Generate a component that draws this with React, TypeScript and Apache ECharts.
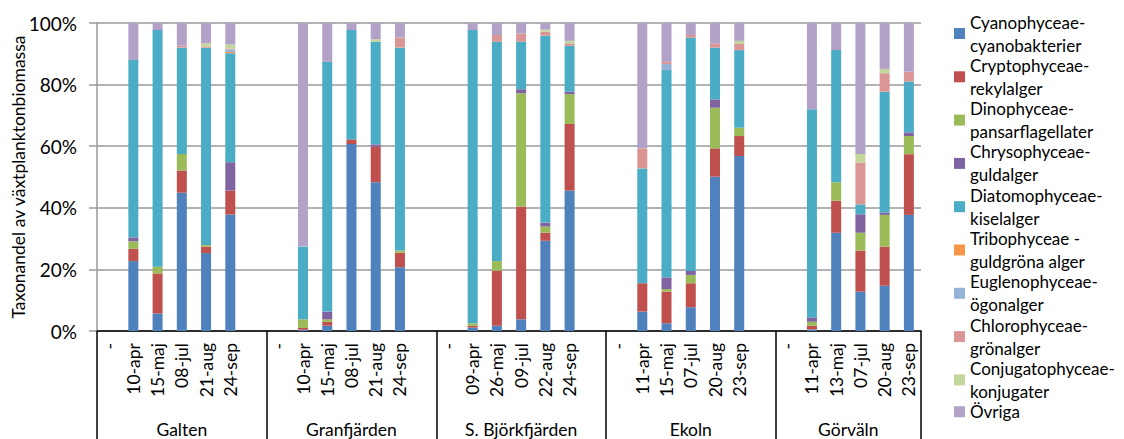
import React, { useEffect, useRef } from "react";
import * as echarts from "echarts";

// Stations (outer category level) and their sampling dates (inner level)
const stations = ["Galten", "Granfjärden", "S. Björkfjärden", "Ekoln", "Görväln"];
const galtenDates = ["10-apr", "15-maj", "08-jul", "21-aug", "24-sep"];
const granfjardenDates = ["10-apr", "15-maj", "08-jul", "21-aug", "24-sep"];
const bjorkfjardenDates = ["09-apr", "26-maj", "09-jul", "22-aug", "24-sep"];
const ekolnDates = ["11-apr", "15-maj", "07-jul", "20-aug", "23-sep"];
const gorvalnDates = ["11-apr", "13-maj", "07-jul", "20-aug", "23-sep"];
const stationDates = [galtenDates, granfjardenDates, bjorkfjardenDates, ekolnDates, gorvalnDates];

// Share of phytoplankton biomass (%) per taxon, 25 samples in station/date order
const cyano = [22.7, 5.7, 44.9, 25.3, 37.8, 0.4, 1.7, 60.7, 48.3, 20.7, 1.1, 1.7, 3.8, 29.3, 45.6, 6.3, 2.5, 7.7, 50.1, 56.8, 0.5, 31.9, 12.8, 14.7, 37.7];
const crypto = [4.0, 13.0, 7.2, 2.1, 7.8, 0.6, 1.3, 1.5, 11.5, 4.7, 0.6, 17.9, 36.6, 2.6, 21.6, 9.2, 10.3, 7.8, 9.2, 6.5, 1.2, 10.4, 13.3, 12.7, 19.7];
const dino = [2.4, 2.2, 5.4, 0.5, 0, 2.8, 0.8, 0, 0, 0.7, 0.8, 3.1, 36.8, 2.0, 9.7, 0, 0.8, 2.7, 13.2, 2.7, 1.3, 6.0, 5.8, 10.3, 5.9];
const chryso = [1.3, 0, 0, 0, 9.2, 0, 2.5, 0, 0.8, 0, 0, 0, 1.3, 1.3, 0.8, 0, 3.8, 1.3, 2.7, 0, 1.4, 0, 6.0, 0.8, 1.2];
const diatom = [57.6, 76.8, 34.5, 64.1, 35.4, 23.6, 81.1, 35.5, 33.3, 65.9, 95.2, 71.2, 15.4, 60.7, 14.9, 37.3, 67.3, 75.7, 16.8, 25.2, 67.6, 42.9, 3.2, 39.2, 16.5];
const tribo = [0, 0, 0, 0, 0.4, 0, 0, 0, 0, 0, 0, 0, 0, 0, 0, 0, 0, 0, 0, 0, 0, 0, 0, 0, 0];
const eugleno = [0, 0, 0, 0, 0.8, 0, 0, 0, 0, 0, 0, 0, 0, 0, 0, 0, 2.0, 0, 0, 0, 0, 0, 0, 0, 0];
const chloro = [0, 0, 0.6, 0.4, 0.3, 0, 0, 0, 0, 3.3, 0, 2.2, 2.7, 1.3, 0.8, 6.5, 0.7, 0.9, 1.4, 2.0, 0, 0, 13.6, 6.0, 3.2];
const conj = [0, 0, 0, 1.0, 1.3, 0, 0, 0, 0.8, 0, 0, 0, 0, 0.7, 0.8, 0, 0, 0, 0, 1.0, 0, 0, 2.8, 1.4, 0];
const ovriga = [12.0, 2.3, 7.4, 6.6, 7.0, 72.6, 12.6, 2.3, 5.3, 4.7, 2.3, 3.9, 3.4, 2.1, 5.8, 40.7, 12.6, 3.9, 6.6, 5.8, 28.0, 8.8, 42.5, 14.9, 15.8];

const taxa = [
  { name: "Cyanophyceae-cyanobakterier", values: cyano, color: "#4F81BD" },
  { name: "Cryptophyceae-rekylalger", values: crypto, color: "#C0504D" },
  { name: "Dinophyceae-pansarflagellater", values: dino, color: "#9BBB59" },
  { name: "Chrysophyceae-guldalger", values: chryso, color: "#8064A2" },
  { name: "Diatomophyceae-kiselalger", values: diatom, color: "#4BACC6" },
  { name: "Tribophyceae - guldgröna alger", values: tribo, color: "#F79646" },
  { name: "Euglenophyceae-ögonalger", values: eugleno, color: "#95B3D7" },
  { name: "Chlorophyceae-grönalger", values: chloro, color: "#D99694" },
  { name: "Conjugatophyceae-konjugater", values: conj, color: "#C3D69B" },
  { name: "Övriga", values: ovriga, color: "#B3A2C7" },
];

const FONT = "Lato, 'Liberation Sans', sans-serif";

// Category slots: per station a "-" slot, the five dates, and a spacer slot
// between stations. sampleIndex maps each slot to a sample (or -1 if empty).
const categories: string[] = [];
const sampleIndex: number[] = [];
const stationBounds: number[] = [0];
stationDates.forEach((dates, s) => {
  categories.push("-");
  sampleIndex.push(-1);
  dates.forEach((d, i) => {
    categories.push(d);
    sampleIndex.push(s * 5 + i);
  });
  if (s < stationDates.length - 1) {
    categories.push("");
    sampleIndex.push(-1);
  }
  stationBounds.push(categories.length);
});
const stationCenters = stations.map((_, i) => (stationBounds[i] + stationBounds[i + 1]) / 2);

function legendText(name: string): string {
  const i = name.indexOf("-");
  if (i < 0) return name;
  return name.slice(0, i + 1) + "\n" + name.slice(i + 1).trim();
}

export default function App() {
  const ref = useRef<HTMLDivElement>(null);

  useEffect(() => {
    if (!ref.current) return;
    const chart = echarts.init(ref.current, undefined, { renderer: "svg" });
    const lineH = 23;
    chart.setOption({
      animation: false,
      textStyle: { fontFamily: FONT },
      grid: {
        left: 97,
        right: 203,
        top: 23,
        bottom: 108,
        containLabel: false,
        outerBoundsMode: "none",
      },
      legend: {
        orient: "vertical",
        left: 949,
        top: -6,
        itemWidth: 11,
        itemHeight: 11,
        itemGap: -25.7,
        icon: "rect",
        selectedMode: false,
        data: taxa.map((t) => t.name),
        formatter: (name: string) => legendText(name),
        textStyle: {
          fontFamily: FONT,
          fontSize: 17,
          color: "#000",
          lineHeight: lineH,
          padding: [lineH, 0, 0, 0],
        },
      },
      xAxis: [
        {
          type: "category",
          data: categories,
          boundaryGap: true,
          axisLine: { show: false },
          axisTick: { show: false },
          axisLabel: {
            interval: 0,
            rotate: 90,
            margin: 12,
            fontSize: 17.5,
            fontFamily: FONT,
            color: "#000",
          },
          splitLine: { show: false },
        },
        {
          type: "value",
          position: "bottom",
          min: 0,
          max: categories.length,
          axisLine: { show: true, lineStyle: { color: "#000", width: 1.5 } },
          axisTick: {
            show: true,
            customValues: stationBounds,
            length: 108,
            lineStyle: { color: "#000", width: 1.5 },
          },
          axisLabel: {
            customValues: stationCenters,
            formatter: (v: number) => {
              const i = stationCenters.indexOf(v);
              return i >= 0 ? stations[i] : "";
            },
            margin: 89,
            fontSize: 17.5,
            fontFamily: FONT,
            color: "#000",
          },
          splitLine: { show: false },
        },
      ],
      yAxis: {
        type: "value",
        min: 0,
        max: 100,
        interval: 20,
        name: "Taxonandel av växtplanktonbiomassa",
        nameLocation: "middle",
        nameRotate: 90,
        nameGap: 70,
        nameMoveOverlap: false,
        nameTextStyle: { fontFamily: FONT, fontSize: 17.5, color: "#000" },
        axisLine: { show: true, lineStyle: { color: "#9a9a9a", width: 1.5 } },
        axisTick: { show: true, length: 8, lineStyle: { color: "#9a9a9a", width: 1.5 } },
        axisLabel: {
          formatter: "{value}%",
          margin: 20,
          fontSize: 19,
          fontFamily: FONT,
          color: "#000",
        },
        splitLine: { show: true, lineStyle: { color: "#9a9a9a", width: 1.5 } },
      },
      series: taxa.map((t) => ({
        name: t.name,
        type: "bar",
        stack: "total",
        xAxisIndex: 0,
        barWidth: 10,
        itemStyle: { color: t.color },
        data: sampleIndex.map((k) => (k < 0 ? null : t.values[k])),
      })),
    });
    return () => chart.dispose();
  }, []);

  return (
    <div
      ref={ref}
      style={{ position: "fixed", left: 0, top: 0, width: 1124, height: 439, background: "#fff" }}
    />
  );
}
